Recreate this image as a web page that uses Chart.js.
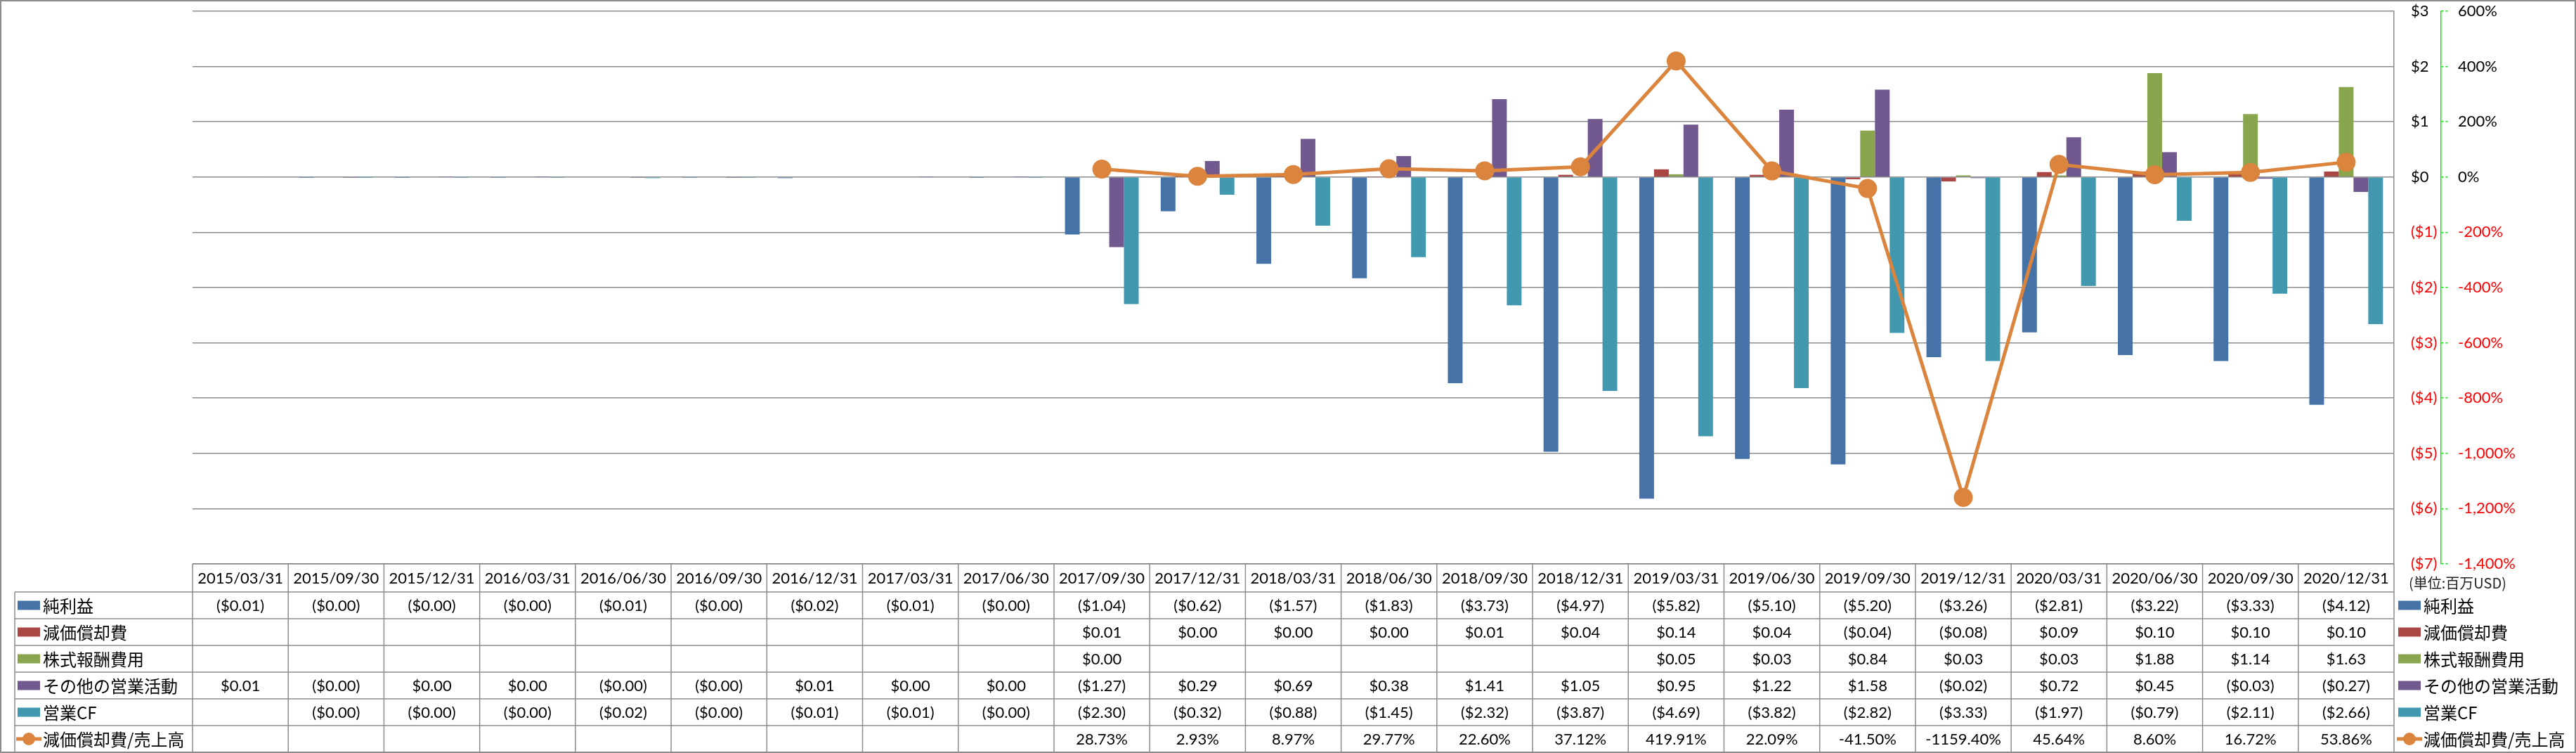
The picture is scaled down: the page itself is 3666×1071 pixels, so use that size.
<!DOCTYPE html>
<html>
<head>
<meta charset="utf-8">
<script src="https://cdn.jsdelivr.net/npm/chart.js@4/dist/chart.umd.min.js"></script>
<style>
  html, body { margin: 0; padding: 0; background: #fff; }
  canvas { display: block; }
</style>
</head>
<body>
<canvas id="cfChart" width="3666" height="1071"></canvas>
<script>
const periods = ['2015/03/31', '2015/09/30', '2015/12/31', '2016/03/31', '2016/06/30', '2016/09/30',
    '2016/12/31', '2017/03/31', '2017/06/30', '2017/09/30', '2017/12/31', '2018/03/31', '2018/06/30',
    '2018/09/30', '2018/12/31', '2019/03/31', '2019/06/30', '2019/09/30', '2019/12/31', '2020/03/31',
    '2020/06/30', '2020/09/30', '2020/12/31'];

// 百万USD
const netIncome = [-0.01, -0.003, -0.003, -0.004, -0.01, -0.004, -0.02, -0.01, -0.003, -1.04, -0.62, -1.57,
    -1.83, -3.73, -4.97, -5.82, -5.10, -5.20, -3.26, -2.81, -3.22, -3.33, -4.12];
const depreciation = [null, null, null, null, null, null, null, null, null, 0.01, 0.001, 0.002,
    0.003, 0.01, 0.04, 0.14, 0.04, -0.04, -0.08, 0.09, 0.10, 0.10, 0.10];
const stockComp = [null, null, null, null, null, null, null, null, null, 0.001, null, null,
    null, null, null, 0.05, 0.03, 0.84, 0.03, 0.03, 1.88, 1.14, 1.63];
const otherOps = [0.01, -0.003, 0.002, 0.001, -0.004, -0.003, 0.01, 0.002, 0.001, -1.27, 0.29, 0.69,
    0.38, 1.41, 1.05, 0.95, 1.22, 1.58, -0.02, 0.72, 0.45, -0.03, -0.27];
const operatingCF = [null, -0.002, -0.003, -0.004, -0.02, -0.004, -0.01, -0.01, -0.003, -2.30, -0.32, -0.88,
    -1.45, -2.32, -3.87, -4.69, -3.82, -2.82, -3.33, -1.97, -0.79, -2.11, -2.66];
// %
const depRatio = [null, null, null, null, null, null, null, null, null, 28.73, 2.93, 8.97,
    29.77, 22.60, 37.12, 419.91, 22.09, -41.50, -1159.40, 45.64, 8.60, 16.72, 53.86];

const usdTicks = [3, 2, 1, 0, -1, -2, -3, -4, -5, -6, -7];
const pctTicks = [600, 400, 200, 0, -200, -400, -600, -800, -1000, -1200, -1400];

const BLUE = '#4572A7', RED = '#AA4643', GREEN = '#89A54E', PURPLE = '#71588F', TEAL = '#4198AF', ORANGE = '#DB843D';
const GRID = '#8c8c8c';
const LATIN = 'Lato, "Liberation Sans", sans-serif';
const JP = '"Noto Sans CJK JP", Lato, sans-serif';

function money(v) {
    if (v === null || v === undefined) return '';
    const s = '$' + Math.abs(v).toFixed(2);
    return v < 0 ? '(' + s + ')' : s;
}

function pct(v) {
    if (v === null || v === undefined) return '';
    return v.toFixed(2) + '%';
}

const tableRows = [
    { name: '純利益', color: BLUE, values: netIncome, fmt: money },
    { name: '減価償却費', color: RED, values: depreciation, fmt: money },
    { name: '株式報酬費用', color: GREEN, values: stockComp, fmt: money },
    { name: 'その他の営業活動', color: PURPLE, values: otherOps, fmt: money },
    { name: '営業CF', color: TEAL, values: operatingCF, fmt: money },
    { name: '減価償却費/売上高', color: ORANGE, values: depRatio, fmt: pct, line: true }
];

function drawKey(ctx, row, x, cy) {
    if (row.line) {
        ctx.strokeStyle = row.color;
        ctx.lineWidth = 5;
        ctx.beginPath();
        ctx.moveTo(x - 2, cy);
        ctx.lineTo(x + 34, cy);
        ctx.stroke();
        ctx.fillStyle = row.color;
        ctx.beginPath();
        ctx.arc(x + 16, cy, 9, 0, Math.PI * 2);
        ctx.fill();
    } else {
        ctx.fillStyle = row.color;
        ctx.fillRect(x, cy - 6.5, 32, 13);
    }
}

// data table under the plot + side legend
const dataTable = {
    id: 'dataTable',
    afterDraw(chart) {
        const ctx = chart.ctx;
        const area = chart.chartArea;
        const n = periods.length;
        const w = (area.right - area.left) / n;
        const top = area.bottom;
        const headH = 40, rowH = 38;
        const tableLeft = 21;
        const bottom = top + headH + rowH * tableRows.length;

        ctx.save();
        ctx.strokeStyle = GRID;
        ctx.lineWidth = 1.5;
        ctx.beginPath();
        ctx.moveTo(area.left, top);
        ctx.lineTo(area.right, top);
        for (let r = 0; r <= tableRows.length; r++) {
            const y = top + headH + r * rowH;
            ctx.moveTo(tableLeft, y);
            ctx.lineTo(area.right, y);
        }
        for (let i = 0; i <= n; i++) {
            const x = area.left + i * w;
            ctx.moveTo(x, top);
            ctx.lineTo(x, bottom);
        }
        ctx.moveTo(tableLeft, top + headH);
        ctx.lineTo(tableLeft, bottom);
        ctx.stroke();

        ctx.textAlign = 'center';
        ctx.textBaseline = 'middle';
        ctx.fillStyle = '#000';
        ctx.font = '22px ' + LATIN;
        periods.forEach((p, i) => {
            ctx.fillText(p, area.left + (i + 0.5) * w, top + headH / 2 + 1);
        });
        tableRows.forEach((row, r) => {
            const cy = top + headH + (r + 0.5) * rowH + 1;
            row.values.forEach((v, i) => {
                ctx.fillText(row.fmt(v), area.left + (i + 0.5) * w, cy);
            });
        });

        ctx.textAlign = 'left';
        tableRows.forEach((row, r) => {
            const cy = top + headH + (r + 0.5) * rowH;
            drawKey(ctx, row, 25, cy);
            drawKey(ctx, row, area.right + 6, cy);
            ctx.fillStyle = '#000';
            ctx.font = '24px ' + JP;
            ctx.fillText(row.name, 61, cy + 1);
            ctx.fillText(row.name, area.right + 42, cy + 1);
        });

        ctx.font = '20px ' + JP;
        ctx.fillStyle = '#222';
        ctx.fillText('(単位:百万USD)', area.right + 21, top + 27);

        // chart frame
        ctx.strokeStyle = GRID;
        ctx.lineWidth = 2;
        ctx.strokeRect(1, 1, chart.width - 2, chart.height - 2);
        ctx.restore();
    }
};

const ctx = document.getElementById('cfChart').getContext('2d');

const cfChart = new Chart(ctx, {
    type: 'bar',
    data: {
        labels: periods,
        datasets: [
            {
                type: 'line',
                label: '減価償却費/売上高',
                data: depRatio,
                yAxisID: 'y1',
                borderColor: ORANGE,
                backgroundColor: ORANGE,
                borderWidth: 5,
                pointRadius: 11,
                pointBackgroundColor: ORANGE,
                pointBorderColor: ORANGE,
                tension: 0,
                order: 0
            },
            { label: '純利益', data: netIncome, backgroundColor: BLUE, yAxisID: 'y', order: 1 },
            { label: '減価償却費', data: depreciation, backgroundColor: RED, yAxisID: 'y', order: 1 },
            { label: '株式報酬費用', data: stockComp, backgroundColor: GREEN, yAxisID: 'y', order: 1 },
            { label: 'その他の営業活動', data: otherOps, backgroundColor: PURPLE, yAxisID: 'y', order: 1 },
            { label: '営業CF', data: operatingCF, backgroundColor: TEAL, yAxisID: 'y', order: 1 }
        ]
    },
    options: {
        responsive: false,
        animation: false,
        datasets: {
            bar: { categoryPercentage: 0.77, barPercentage: 1.0 }
        },
        layout: { padding: { left: 274, top: 15, right: 0, bottom: 269 } },
        plugins: {
            legend: { display: false },
            tooltip: { enabled: false }
        },
        scales: {
            x: { display: false },
            y: {
                position: 'right',
                min: usdTicks[usdTicks.length - 1],
                max: usdTicks[0],
                afterBuildTicks: s => { s.ticks = usdTicks.map(v => ({ value: v })); },
                afterFit: s => { s.width = 67; },
                grid: { color: GRID, lineWidth: 1.5, drawTicks: true, tickLength: 24, tickColor: 'rgba(0,0,0,0)' },
                border: { color: GRID, width: 1.5 },
                ticks: {
                    padding: 0,
                    font: { family: LATIN, size: 22 },
                    color: c => c.tick.value < 0 ? '#ff0000' : '#000',
                    callback: v => v < 0 ? '($' + (-v) + ')' : '$' + v
                }
            },
            y1: {
                position: 'right',
                min: pctTicks[pctTicks.length - 1],
                max: pctTicks[0],
                afterBuildTicks: s => { s.ticks = pctTicks.map(v => ({ value: v })); },
                afterFit: s => { s.width = 192; },
                grid: {
                    drawOnChartArea: false,
                    color: '#00ee00',
                    tickLength: 24,
                    tickBorderDash: [3, 3, 3, 60],
                    lineWidth: 1.5
                },
                border: { color: '#00ee00', width: 1.5, dash: [5, 3] },
                ticks: {
                    padding: 0,
                    font: { family: LATIN, size: 22 },
                    color: c => c.tick.value < 0 ? '#ff0000' : '#000',
                    callback: v => v.toLocaleString('en-US') + '%'
                }
            }
        }
    },
    plugins: [dataTable]
});
</script>
</body>
</html>
